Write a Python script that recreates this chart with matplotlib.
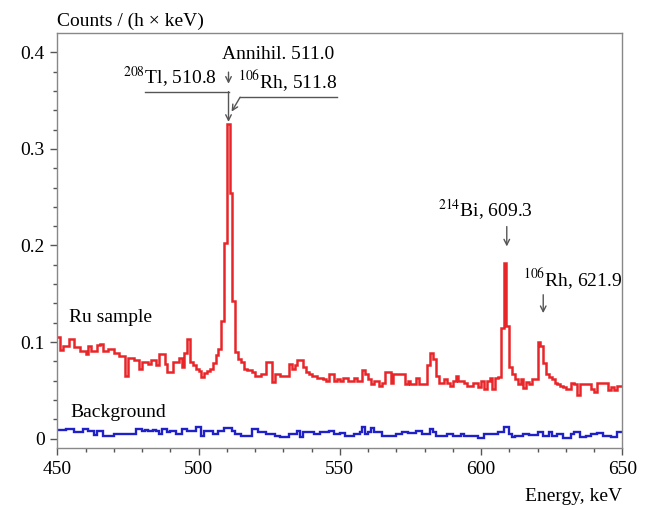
import numpy as np
import matplotlib
matplotlib.use('Agg')
import matplotlib.pyplot as plt

plt.rcParams['font.family'] = ['Liberation Serif', 'DejaVu Serif']
plt.rcParams['mathtext.fontset'] = 'stix'

# 1 keV bins, 450..650 keV
edges = np.arange(450, 651)

ru_sample = [
    0.105, 0.092, 0.096, 0.096, 0.103, 0.103, 0.095, 0.095, 0.091, 0.091,
    0.088, 0.096, 0.091, 0.091, 0.097, 0.098, 0.091, 0.091, 0.093, 0.093,
    0.089, 0.089, 0.086, 0.086, 0.065, 0.084, 0.084, 0.081, 0.081, 0.072,
    0.079, 0.079, 0.077, 0.081, 0.081, 0.076, 0.088, 0.088, 0.077, 0.069,
    0.069, 0.079, 0.079, 0.084, 0.074, 0.089, 0.103, 0.079, 0.076, 0.072,
    0.070, 0.064, 0.068, 0.070, 0.072, 0.078, 0.087, 0.093, 0.122, 0.203,
    0.326, 0.254, 0.143, 0.090, 0.082, 0.079, 0.072, 0.071, 0.071, 0.069,
    0.065, 0.065, 0.067, 0.067, 0.079, 0.079, 0.059, 0.067, 0.067, 0.065,
    0.065, 0.065, 0.077, 0.072, 0.076, 0.081, 0.081, 0.074, 0.069, 0.067,
    0.065, 0.065, 0.063, 0.063, 0.062, 0.060, 0.067, 0.067, 0.060, 0.062,
    0.060, 0.063, 0.063, 0.060, 0.060, 0.063, 0.060, 0.060, 0.071, 0.067,
    0.062, 0.057, 0.060, 0.060, 0.055, 0.058, 0.069, 0.069, 0.058, 0.067,
    0.067, 0.067, 0.067, 0.057, 0.060, 0.057, 0.057, 0.063, 0.057, 0.057,
    0.057, 0.076, 0.089, 0.082, 0.065, 0.058, 0.058, 0.062, 0.058, 0.055,
    0.060, 0.065, 0.060, 0.060, 0.058, 0.055, 0.055, 0.058, 0.058, 0.053,
    0.060, 0.051, 0.060, 0.063, 0.051, 0.063, 0.064, 0.115, 0.182, 0.117,
    0.074, 0.067, 0.062, 0.057, 0.062, 0.052, 0.059, 0.057, 0.062, 0.062,
    0.100, 0.096, 0.078, 0.067, 0.064, 0.062, 0.058, 0.057, 0.055, 0.053,
    0.051, 0.051, 0.058, 0.057, 0.045, 0.057, 0.057, 0.057, 0.057, 0.051,
    0.048, 0.058, 0.058, 0.058, 0.058, 0.050, 0.053, 0.050, 0.055, 0.055,
]

background = [
    0.009, 0.009, 0.009, 0.010, 0.010, 0.010, 0.007, 0.007, 0.007, 0.010,
    0.010, 0.008, 0.008, 0.004, 0.008, 0.008, 0.003, 0.003, 0.003, 0.003,
    0.005, 0.005, 0.005, 0.005, 0.005, 0.005, 0.005, 0.005, 0.010, 0.010,
    0.008, 0.009, 0.008, 0.008, 0.009, 0.008, 0.005, 0.010, 0.010, 0.007,
    0.008, 0.008, 0.005, 0.005, 0.010, 0.010, 0.008, 0.008, 0.008, 0.012,
    0.012, 0.003, 0.008, 0.008, 0.008, 0.005, 0.005, 0.008, 0.008, 0.011,
    0.011, 0.011, 0.008, 0.005, 0.005, 0.003, 0.003, 0.003, 0.003, 0.010,
    0.010, 0.007, 0.007, 0.007, 0.005, 0.005, 0.005, 0.003, 0.003, 0.002,
    0.002, 0.002, 0.005, 0.005, 0.005, 0.008, 0.002, 0.007, 0.007, 0.007,
    0.007, 0.005, 0.005, 0.007, 0.007, 0.007, 0.008, 0.008, 0.005, 0.005,
    0.006, 0.006, 0.003, 0.003, 0.003, 0.005, 0.005, 0.007, 0.012, 0.005,
    0.007, 0.011, 0.007, 0.007, 0.007, 0.003, 0.003, 0.003, 0.003, 0.003,
    0.005, 0.005, 0.007, 0.007, 0.006, 0.006, 0.006, 0.008, 0.008, 0.005,
    0.005, 0.005, 0.010, 0.007, 0.003, 0.003, 0.003, 0.003, 0.005, 0.005,
    0.003, 0.003, 0.003, 0.005, 0.003, 0.003, 0.003, 0.003, 0.003, 0.001,
    0.001, 0.005, 0.005, 0.005, 0.005, 0.005, 0.007, 0.007, 0.012, 0.012,
    0.005, 0.002, 0.003, 0.003, 0.003, 0.005, 0.005, 0.004, 0.004, 0.004,
    0.007, 0.007, 0.003, 0.003, 0.007, 0.003, 0.003, 0.005, 0.005, 0.001,
    0.001, 0.001, 0.005, 0.007, 0.007, 0.002, 0.002, 0.003, 0.003, 0.005,
    0.005, 0.006, 0.006, 0.003, 0.003, 0.003, 0.002, 0.002, 0.007, 0.007,
]

xticks = [450, 500, 550, 600, 650]
yticks = [0, 0.1, 0.2, 0.3, 0.4]
ytick_labels = ['0', '0.1', '0.2', '0.3', '0.4']

fs = 14
gray = '#555555'
arrow = dict(arrowstyle='->', color=gray, lw=1, shrinkA=0, shrinkB=0)

fig = plt.figure(figsize=(6.49, 5.08), dpi=100)
ax = fig.add_axes([0.0883, 0.1175, 0.8706, 0.8175])

ax.stairs(ru_sample, edges, color='#e8262a', lw=1.8, baseline=None)
ax.stairs(background, edges, color='#2020c8', lw=1.7, baseline=None)

ax.set_xlim(450, 650)
ax.set_ylim(-0.01, 0.42)
ax.set_xticks(xticks)
ax.set_xticks(np.arange(450, 651, 10), minor=True)
ax.set_yticks(yticks)
ax.set_yticklabels(ytick_labels)
ax.set_yticks(np.arange(0, 0.42, 0.02), minor=True)
ax.tick_params(which='major', direction='out', length=5, width=1, color=gray,
               labelsize=fs, pad=4, top=False, right=False)
ax.tick_params(which='minor', direction='out', length=3, width=1, color=gray,
               top=False, right=False)
for s in ax.spines.values():
    s.set_color('#888888')
    s.set_linewidth(1)

ax.text(0, 1.017, 'Counts / (h \u00d7 keV)', transform=ax.transAxes,
        fontsize=fs, ha='left', va='baseline')
ax.text(1, -0.128, 'Energy, keV', transform=ax.transAxes,
        fontsize=fs, ha='right', va='baseline')

ax.text(454.1, 0.121, 'Ru sample', fontsize=fs, va='baseline')
ax.text(454.5, 0.022, 'Background', fontsize=fs, va='baseline')

# 511 keV group
ax.text(508.2, 0.3935, 'Annihil. 511.0', fontsize=fs, va='baseline')
ax.text(506.4, 0.368, r'$^{208}$Tl, 510.8', fontsize=fs, ha='right', va='baseline')
ax.annotate('', xy=(510.6, 0.3675), xytext=(510.6, 0.3795), arrowprops=arrow)
ax.text(514.1, 0.3628, r'$^{106}$Rh, 511.8', fontsize=fs, va='baseline')

ax.plot([481.0, 510.6], [0.3593, 0.3593], color=gray, lw=1)
ax.annotate('', xy=(510.6, 0.328), xytext=(510.6, 0.3593), arrowprops=arrow)
ax.plot([548.9, 514.7], [0.3535, 0.3535], color=gray, lw=1)
ax.annotate('', xy=(511.7, 0.3386), xytext=(514.7, 0.3535), arrowprops=arrow)

# 609 keV and 622 keV
ax.text(584.9, 0.230, r'$^{214}$Bi, 609.3', fontsize=fs, va='baseline')
ax.annotate('', xy=(609.1, 0.199), xytext=(609.1, 0.2196), arrowprops=arrow)
ax.text(615.0, 0.1575, r'$^{106}$Rh, 621.9', fontsize=fs, va='baseline')
ax.annotate('', xy=(622.0, 0.130), xytext=(622.0, 0.149), arrowprops=arrow)

fig.savefig('out.png', dpi=100)
